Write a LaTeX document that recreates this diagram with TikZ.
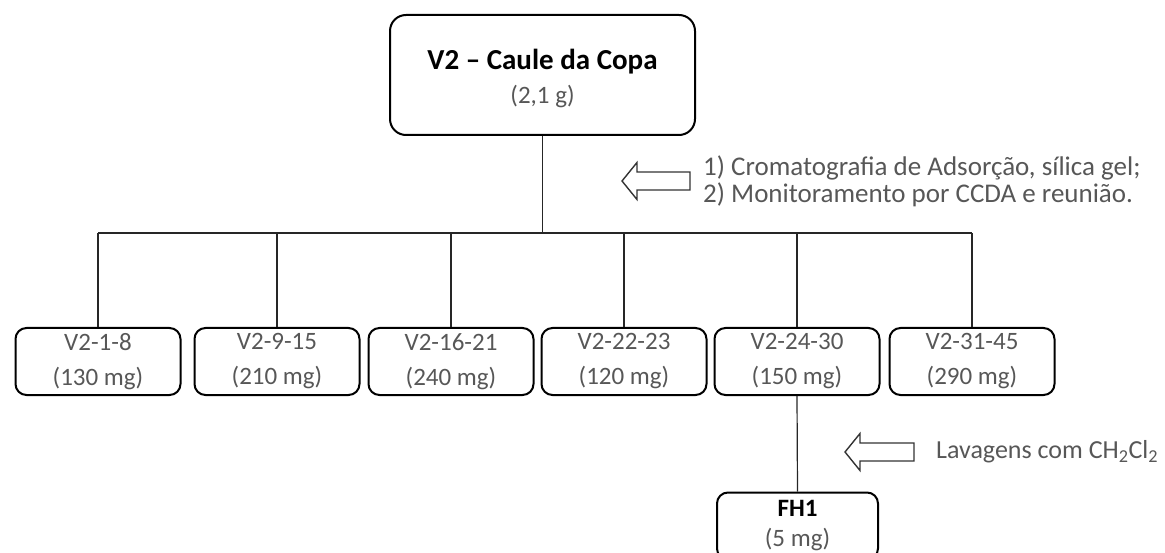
\documentclass[tikz,border=0pt]{standalone}
\usepackage{fontspec}
\setmainfont{Carlito}
\begin{document}
\begin{tikzpicture}[x=1pt,y=-1pt,
  box/.style={draw=black, line width=2pt, rounded corners=11pt, inner sep=0pt,
              minimum width=165pt, minimum height=67pt, align=center,
              text=black!66, font=\fontsize{25}{35}\selectfont},
  conn/.style={draw=black!85, line width=1.6pt},
  note/.style={text=black!66, font=\fontsize{27}{27}\selectfont, align=left, inner sep=0pt},
  hollow/.style={draw=black!80, line width=1.4pt, fill=white, line join=miter}]
\useasboundingbox (0,0) rectangle (1165,553);
% top box
\node[box, minimum width=305pt, minimum height=120pt, rounded corners=16pt] (top) at (542.5,75) {};
\node[inner sep=0pt, font=\fontsize{29}{30}\selectfont\bfseries, text=black] (title) at (542.5,62) {V2 -- Caule da Copa};
\node[inner sep=0pt, font=\fontsize{25}{26}\selectfont, text=black!66] (mass) at (542.5,97) {(2,1 g)};
% bus
\coordinate (bl) at (98,233);
\coordinate (br) at (972,233);
% fraction boxes
\node[box] (b1) at (98,361.5)  {V2-1-8\\(130 mg)};
\node[box] (b2) at (277,361.5) {V2-9-15\\(210 mg)};
\node[box] (b3) at (451,361.5) {V2-16-21\\(240 mg)};
\node[box] (b4) at (624,361.5) {V2-22-23\\(120 mg)};
\node[box] (b5) at (797,361.5) {V2-24-30\\(150 mg)};
\node[box] (b6) at (972,361.5) {V2-31-45\\(290 mg)};
\node[box, minimum width=161pt, font=\fontsize{25}{30}\selectfont] (fh) at (797.5,526) {\textcolor{black}{\bfseries FH1}\\(5 mg)};
% connectors
\draw[conn] (top.south) -- (top.south |- bl);
\draw[conn] (bl) -- (br);
\foreach \b in {b1,b2,b3,b4,b5,b6} \draw[conn] (\b.north |- bl) -- (\b.north);
\draw[conn, line width=1.2pt] (b5.south) -- (fh.north);
% hollow arrows
\draw[hollow] (690,172) -- (637,172) -- (637,162.5) -- (622,181) -- (637,199.5) -- (637,190) -- (690,190) -- cycle;
\draw[hollow] (914,443) -- (860,443) -- (860,433.5) -- (845,452) -- (860,470.5) -- (860,461) -- (914,461) -- cycle;
% notes
\node[note, anchor=west] (n1) at (703,181) {1) Cromatografia de Adsorção, sílica gel;\\2) Monitoramento por CCDA e reunião.};
\node[note, anchor=west, font=\fontsize{26}{27}\selectfont] (n2) at (936,452) {Lavagens com CH\textsubscript{2}Cl\textsubscript{2}};
\end{tikzpicture}
\end{document}
